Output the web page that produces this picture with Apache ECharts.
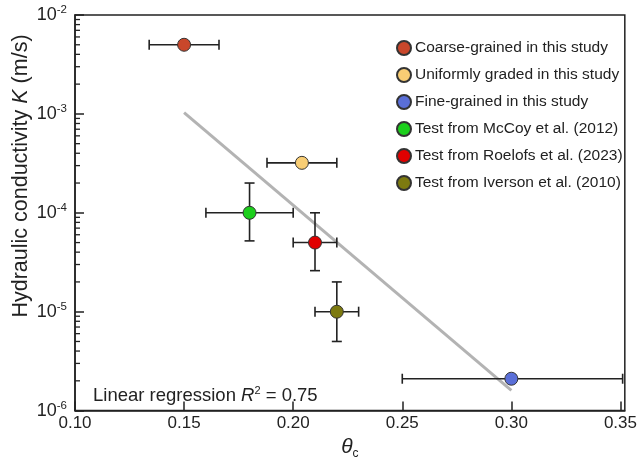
<!DOCTYPE html>
<html><head><meta charset="utf-8">
<script src="https://cdn.jsdelivr.net/npm/echarts@6/dist/echarts.min.js"></script>
<style>html,body{margin:0;padding:0;background:#fff}#c{width:640px;height:465px}</style>
</head><body><div id="c"></div>
<script>
// ---- data ----
const seriesNames = ['Coarse-grained in this study','Uniformly graded in this study','Fine-grained in this study','Test from McCoy et al. (2012)','Test from Roelofs et al. (2023)','Test from Iverson et al. (2010)'];
const seriesColors = ['#c9472b','#f8cd74','#5a6fd8','#1ccf1c','#e00000','#7d7a10'];
const thetaC = [0.15, 0.204, 0.30, 0.18, 0.21, 0.22];
const kValues = [5e-3, 3.2e-4, 2.1e-6, 1e-4, 5e-5, 1e-5];
const thetaLow = [0.134, 0.188, 0.25, 0.16, 0.20, 0.21];
const thetaHigh = [0.166, 0.220, 0.351, 0.20, 0.22, 0.23];
const kLow = [null, null, null, 5.2e-5, 2.6e-5, 5e-6];
const kHigh = [null, null, null, 2e-4, 1e-4, 2e-5];
const regressionX = [0.15, 0.30];
const regressionK = [1.03e-3, 1.6e-6];
const xTicks = [0.10, 0.15, 0.20, 0.25, 0.30, 0.35];
const yMinorTicks = [];
[1e-6,1e-5,1e-4,1e-3].forEach(d => { for (let m = 2; m <= 9; m++) yMinorTicks.push(m * d); });

const FONT = 'Liberation Sans, Arial, sans-serif';
const chart = echarts.init(document.getElementById('c'), null, {renderer:'canvas'});

const errData = thetaC.map((x,i) => [x, kValues[i], thetaLow[i], thetaHigh[i], kLow[i], kHigh[i]]);

const series = [];
series.push({
  type:'custom', silent:true, clip:false, z:5,
  data: yMinorTicks.map(v => [0.10, v]),
  renderItem: (params, api) => {
    const p = api.coord([api.value(0), api.value(1)]);
    return {type:'line', shape:{x1:p[0], y1:p[1], x2:p[0]+5, y2:p[1]}, style:{stroke:'#222', lineWidth:1.3}};
  }
});
series.push({
  type:'line', data: regressionX.map((x,i)=>[x, regressionK[i]]), showSymbol:false, symbol:'none',
  lineStyle:{color:'#b3b3b3', width:3}, silent:true, z:2
});
series.push({
  type:'custom', silent:true, z:3, clip:false,
  data: errData,
  renderItem: (params, api) => {
    const d = errData[params.dataIndex];
    const c = api.coord([d[0], d[1]]);
    const l = api.coord([d[2], d[1]]);
    const r = api.coord([d[3], d[1]]);
    const cap = 5;
    const st = {stroke:'#222', lineWidth:1.6};
    const ch = [
      {type:'line', shape:{x1:l[0], y1:c[1], x2:r[0], y2:c[1]}, style:st},
      {type:'line', shape:{x1:l[0], y1:c[1]-cap, x2:l[0], y2:c[1]+cap}, style:st},
      {type:'line', shape:{x1:r[0], y1:c[1]-cap, x2:r[0], y2:c[1]+cap}, style:st}
    ];
    if (d[4] != null) {
      const lo = api.coord([d[0], d[4]]);
      const hi = api.coord([d[0], d[5]]);
      ch.push({type:'line', shape:{x1:c[0], y1:lo[1], x2:c[0], y2:hi[1]}, style:st});
      ch.push({type:'line', shape:{x1:c[0]-cap, y1:lo[1], x2:c[0]+cap, y2:lo[1]}, style:st});
      ch.push({type:'line', shape:{x1:c[0]-cap, y1:hi[1], x2:c[0]+cap, y2:hi[1]}, style:st});
    }
    return {type:'group', children:ch};
  }
});
seriesNames.forEach((n,i) => {
  series.push({
    type:'scatter', name:n, data:[[thetaC[i], kValues[i]]], symbol:'circle', symbolSize:13, z:10,
    itemStyle:{color:seriesColors[i], borderColor:'#333', borderWidth:1, opacity:1}
  });
});

chart.setOption({
  animation:false,
  textStyle:{fontFamily:FONT},
  grid:{left:75, right:5, top:15, bottom:35, show:true, borderColor:'#222', borderWidth:1.5, backgroundColor:'transparent'},
  legend:{
    data: seriesNames.map(n=>({name:n, icon:'circle'})),
    orient:'vertical', left:391, top:35, itemWidth:14, itemHeight:14, itemGap:11,
    textStyle:{fontFamily:FONT, fontSize:15.5, lineHeight:14, color:'#222', padding:[0,0,0,-1]},
    selectedMode:false
  },
  xAxis:{
    type:'value', min:0.10, max:0.352, interval:0.05,
    axisLine:{lineStyle:{color:'#222', width:1.5}},
    axisTick:{inside:true, length:9, lineStyle:{color:'#222', width:1.5}},
    axisLabel:{fontFamily:FONT, fontSize:17, color:'#222', margin:4, showMaxLabel:false,
      formatter: v => v.toFixed(2)},
    splitLine:{show:false},
    name:'{t|θ}{s|c}', nameLocation:'middle', nameGap:22,
    nameTextStyle:{rich:{t:{fontFamily:FONT, fontSize:21, fontStyle:'italic', color:'#222'}, s:{fontFamily:FONT, fontSize:12, color:'#222', padding:[14,0,0,0]}}}
  },
  yAxis:{
    type:'log', logBase:10, min:1e-6, max:1e-2,
    axisLine:{lineStyle:{color:'#222', width:1.5}},
    axisTick:{inside:true, length:9, lineStyle:{color:'#222', width:1.5}},
    axisLabel:{fontFamily:FONT, color:'#222', margin:8,
      formatter: v => '{b|10}{s|' + Math.round(Math.log10(v)) + '}',
      rich:{b:{fontSize:18, fontFamily:FONT, color:'#222'}, s:{fontSize:11.5, fontFamily:FONT, color:'#222', padding:[0,0,10,0]}}},
    splitLine:{show:false}
  },
  graphic:[{
    type:'text', left:93, top:385,
    style:{text:'{a|Linear regression }{i|R}{s|2}{a| = 0.75}', rich:{
      a:{fontFamily:FONT, fontSize:18.5, fill:'#222'},
      i:{fontFamily:FONT, fontSize:18.5, fontStyle:'italic', fill:'#222'},
      s:{fontFamily:FONT, fontSize:11, fill:'#222', padding:[0,0,10,0]}
    }}
  },{
    type:'text', x:21, y:176, rotation:Math.PI/2,
    style:{text:'{a|Hydraulic conductivity }{i|K}{a| (m/s)}', align:'center', verticalAlign:'middle', rich:{
      a:{fontFamily:FONT, fontSize:21.5, fill:'#222'},
      i:{fontFamily:FONT, fontSize:21.5, fontStyle:'italic', fill:'#222'}
    }}
  }],
  series: series
});
</script></body></html>
